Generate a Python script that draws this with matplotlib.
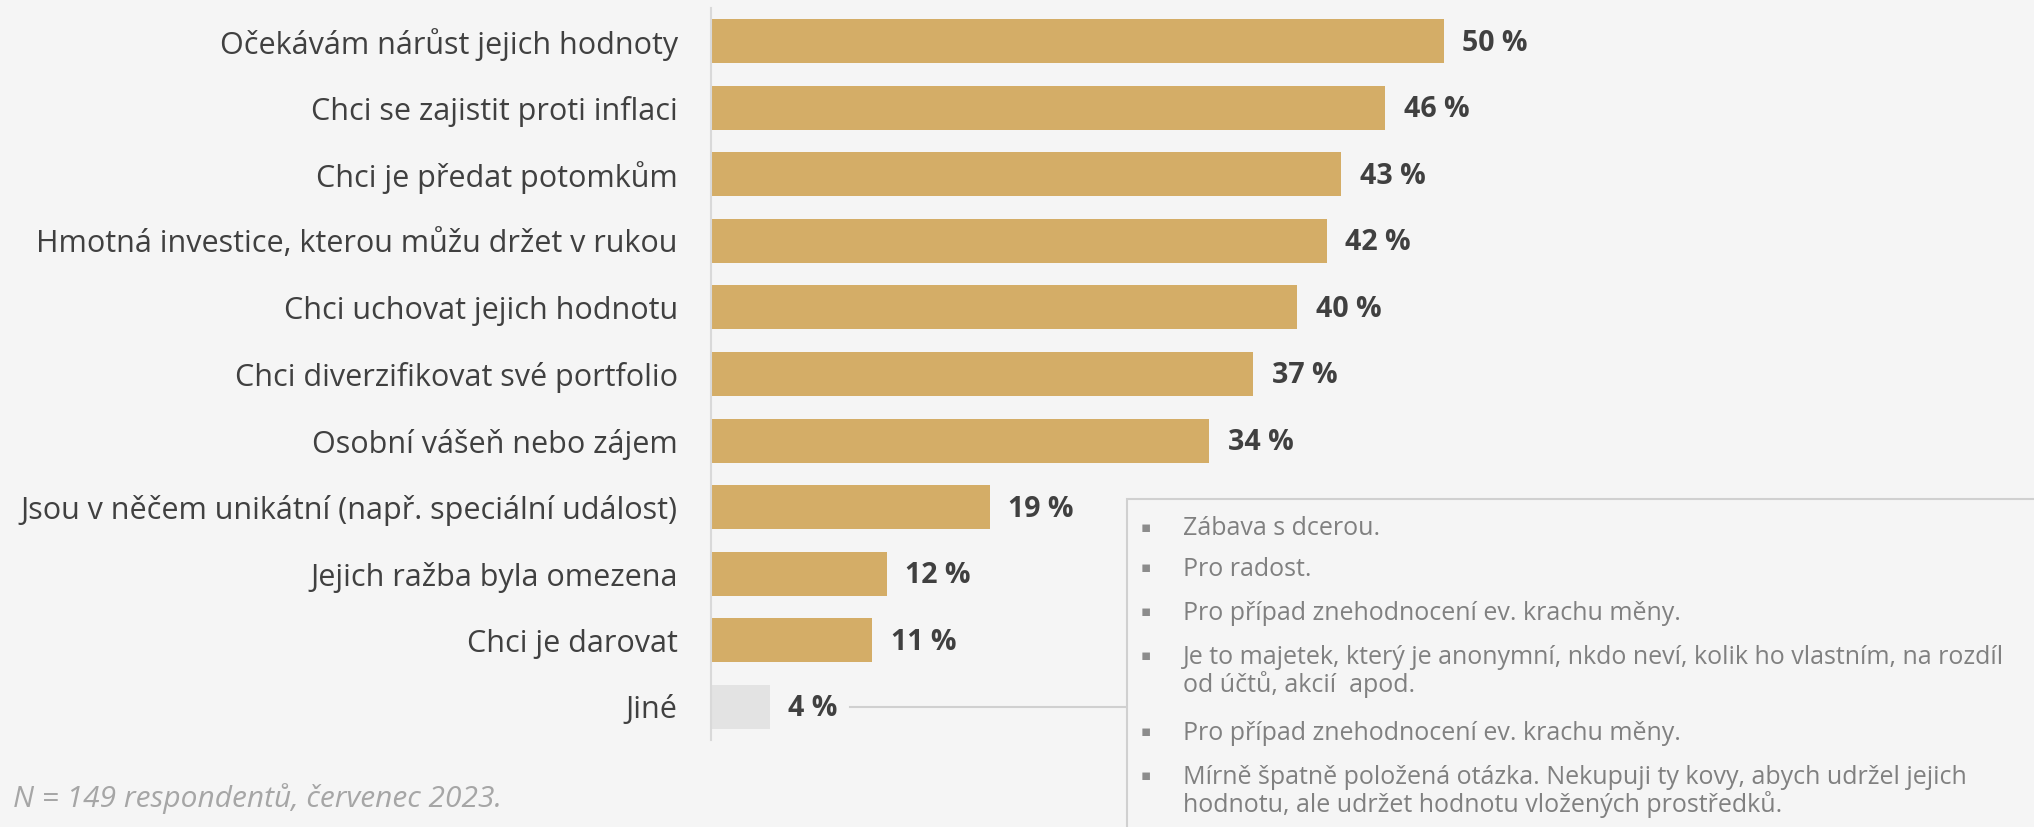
import matplotlib.pyplot as plt
from matplotlib.patches import Rectangle
from matplotlib.transforms import blended_transform_factory

# data
categories = [
    "Očekávám nárůst jejich hodnoty",
    "Chci se zajistit proti inflaci",
    "Chci je předat potomkům",
    "Hmotná investice, kterou můžu držet v rukou",
    "Chci uchovat jejich hodnotu",
    "Chci diverzifikovat své portfolio",
    "Osobní vášeň nebo zájem",
    "Jsou v něčem unikátní (např. speciální událost)",
    "Jejich ražba byla omezena",
    "Chci je darovat",
    "Jiné",
]
values = [50, 46, 43, 42, 40, 37, 34, 19, 12, 11, 4]
other_answers = [
    "Zábava s dcerou.",
    "Pro radost.",
    "Pro případ znehodnocení ev. krachu měny.",
    "Je to majetek, který je anonymní, nkdo neví, kolik ho vlastním, na rozdíl\nod účtů, akcií  apod.",
    "Pro případ znehodnocení ev. krachu měny.",
    "Mírně špatně položená otázka. Nekupuji ty kovy, abych udržel jejich\nhodnotu, ale udržet hodnotu vložených prostředků.",
]
note = "N = 149 respondentů, červenec 2023."

bg = "#f5f5f5"
gold = "#d4ad67"
grey_bar = "#e3e3e3"
txt = "#404040"
FONT = "Open Sans"

W, H = 2034, 827
fig = plt.figure(figsize=(W / 100, H / 100), dpi=100, facecolor=bg)

# axes placed in pixels: zero line at x=711, 14.66 px per percent
x0, ppp = 711, 14.66
xmax = (W - x0) / ppp
ax = fig.add_axes([x0 / W, 87 / H, (W - x0) / W, 732 / H])
ax.set_facecolor("none")

n = len(categories)
ypos = list(range(n))
colors = [gold] * (n - 1) + [grey_bar]
ax.barh(ypos, values, height=0.66, color=colors)
ax.set_xlim(0, xmax)
ax.set_ylim(n - 0.5, -0.5)

for s in ["top", "right", "bottom"]:
    ax.spines[s].set_visible(False)
ax.spines["left"].set_color("#d9d9d9")
ax.spines["left"].set_linewidth(1.5)
ax.set_xticks([])
ax.set_yticks(ypos)
ax.set_yticklabels(categories, fontsize=22, color=txt, family=FONT)
ax.tick_params(axis="y", length=0, pad=24)

for y, v in zip(ypos, values):
    ax.text(v + 1.25, y + 0.03, f"{v} %", va="center", ha="left",
            fontsize=20.5, fontweight="bold", color=txt, family=FONT)

# box with the "Jiné" answers
bx, by = 1127 / W, 328 / H
fig.patches.append(Rectangle((bx, -0.1), 0.6, by + 0.1, transform=fig.transFigure,
                             facecolor=bg, edgecolor="#d0d0d0", linewidth=1.5))
tr = blended_transform_factory(fig.transFigure, ax.transData)
ax.plot([850 / W, bx], [n - 1, n - 1], color="#d0d0d0", lw=1.5,
        transform=tr, clip_on=False)

# centre of the first line of each answer (px from top)
line_y = [527, 568, 612, 656, 732, 776]
line_gap = 28
for yy, t in zip(line_y, other_answers):
    fig.text(1141 / W, 1 - yy / H, "▪", fontsize=11, color="#8c8c8c",
             va="center", ha="left", family="DejaVu Sans")
    for k, part in enumerate(t.split("\n")):
        fig.text(1183 / W, 1 - (yy + 8 + k * line_gap) / H, part, fontsize=18.0,
                 color="#808080", va="baseline", ha="left", family=FONT)

fig.text(13 / W, 1 - 799 / H, note, fontsize=21.5, color="#a6a6a6",
         style="italic", va="center", ha="left", family=FONT)

fig.savefig("out.png", dpi=100, facecolor=bg)
